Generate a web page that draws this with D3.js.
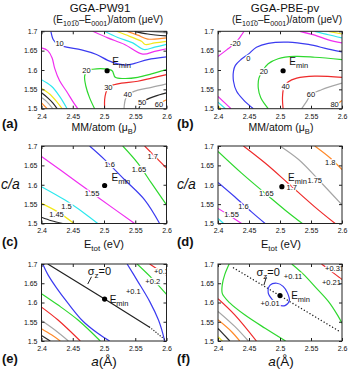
<!DOCTYPE html>
<html>
<head>
<meta charset="utf-8">
<script src="https://cdn.jsdelivr.net/npm/d3@7/dist/d3.min.js"></script>
<style>
  body { margin: 0; background: #fff; }
  svg text { font-family: "Liberation Sans", Arial, sans-serif; fill: #111; }
</style>
</head>
<body>
<svg id="fig" width="350" height="370"></svg>
<script>
// ---- data: points are (a in Angstrom, c/a) ----
const aTicks = [2.4, 2.45, 2.5, 2.55, 2.6];
const aTickLabels = ['2.4', '2.45', '2.5', '2.55', '2.6'];
const caTicks = [1.5, 1.55, 1.6, 1.65, 1.7];
const caTickLabels = ['1.5', '1.55', '1.6', '1.65', '1.7'];

// (a) GGA-PW91, MAE contours
const linesA = [
  [[2.415,1.7],[2.419,1.678],[2.426,1.666],[2.440,1.659],[2.464,1.652],[2.488,1.640],[2.506,1.625],[2.522,1.616],[2.536,1.613],[2.549,1.617],[2.570,1.627],[2.6,1.634]],
  [[2.482,1.7],[2.506,1.683],[2.533,1.666],[2.562,1.641],[2.581,1.648],[2.6,1.655]],
  [[2.501,1.7],[2.522,1.684],[2.546,1.670],[2.564,1.653],[2.581,1.659],[2.6,1.666]],
  [[2.520,1.7],[2.541,1.687],[2.560,1.674],[2.566,1.666],[2.581,1.670],[2.6,1.674]],
  [[2.536,1.7],[2.554,1.690],[2.570,1.680],[2.6,1.683]],
  [[2.549,1.7],[2.570,1.693],[2.6,1.688]],
  [[2.573,1.7],[2.6,1.696]],
  [[2.4,1.657],[2.410,1.650],[2.417,1.631],[2.421,1.605],[2.429,1.572],[2.440,1.545],[2.450,1.519],[2.458,1.5]],
  [[2.4,1.575],[2.416,1.558],[2.429,1.532],[2.441,1.5]],
  [[2.4,1.553],[2.413,1.538],[2.424,1.519],[2.433,1.5]],
  [[2.4,1.541],[2.410,1.528],[2.418,1.515],[2.425,1.5]],
  [[2.4,1.529],[2.408,1.519],[2.418,1.5]],
  [[2.4,1.515],[2.409,1.5]],
  [[2.485,1.5],[2.477,1.528],[2.471,1.558],[2.469,1.584],[2.473,1.598],[2.482,1.602],[2.501,1.603],[2.513,1.598],[2.518,1.581],[2.533,1.578],[2.554,1.581],[2.576,1.590],[2.6,1.601]],
  [[2.6,1.588],[2.576,1.579],[2.554,1.571],[2.528,1.566],[2.516,1.562],[2.507,1.555],[2.503,1.541],[2.501,1.523],[2.501,1.5]],
  [[2.6,1.564],[2.576,1.555],[2.554,1.548],[2.538,1.536],[2.534,1.523],[2.532,1.5]],
  [[2.6,1.541],[2.581,1.532],[2.561,1.517],[2.557,1.506],[2.556,1.5]],
  [[2.6,1.523],[2.588,1.512],[2.582,1.5]]
];
const colorsA = ['blue','magenta','cyan','yellow','orange','black','gray',
  'magenta','cyan','yellow','black','gray','orange','green','red','gray','black','orange'];
const labelsA = [['10',2.429,1.670],['20',2.472,1.598],['30',2.507,1.555],['40',2.538,1.536],['50',2.561,1.517],['60',2.588,1.512]];

// (b) GGA-PBE-pv, MAE contours
const linesB = [
  [[2.4,1.635],[2.414,1.652],[2.428,1.670],[2.437,1.688],[2.442,1.7]],
  [[2.457,1.5],[2.441,1.523],[2.430,1.545],[2.425,1.571],[2.425,1.597],[2.428,1.612],[2.437,1.627],[2.449,1.641],[2.462,1.659],[2.481,1.669],[2.513,1.672],[2.546,1.666],[2.578,1.654],[2.6,1.647]],
  [[2.481,1.5],[2.469,1.528],[2.465,1.553],[2.466,1.579],[2.472,1.598],[2.481,1.616],[2.497,1.629],[2.524,1.635],[2.556,1.633],[2.6,1.627]],
  [[2.505,1.5],[2.504,1.528],[2.506,1.553],[2.513,1.569],[2.527,1.579],[2.556,1.584],[2.6,1.581]],
  [[2.535,1.5],[2.543,1.519],[2.550,1.536],[2.567,1.549],[2.6,1.566]],
  [[2.583,1.5],[2.591,1.510],[2.6,1.521]],
  [[2.532,1.7],[2.556,1.690],[2.578,1.678],[2.6,1.670]],
  [[2.556,1.7],[2.578,1.691],[2.6,1.683]],
  [[2.578,1.7],[2.6,1.693]],
  [[2.4,1.532],[2.411,1.515],[2.421,1.5]],
  [[2.4,1.517],[2.412,1.5]],
  [[2.4,1.507],[2.405,1.5]]
];
const colorsB = ['magenta','blue','green','red','gray','orange','magenta','cyan','yellow','magenta','cyan','yellow'];
const labelsB = [['-20',2.428,1.670],['0',2.449,1.629],['20',2.474,1.597],['40',2.509,1.558],['60',2.550,1.538],['80',2.588,1.512]];

// (c) GGA-PW91, total energy contours
const linesC = [
  [[2.4,1.516],[2.416,1.507],[2.434,1.5]],
  [[2.4,1.552],[2.426,1.530],[2.452,1.5]],
  [[2.4,1.595],[2.437,1.561],[2.469,1.526],[2.490,1.5]],
  [[2.4,1.673],[2.456,1.608],[2.489,1.569],[2.549,1.5]],
  [[2.477,1.7],[2.501,1.665],[2.533,1.613],[2.565,1.561],[2.589,1.5]],
  [[2.530,1.7],[2.554,1.656],[2.576,1.604],[2.6,1.548]],
  [[2.565,1.7],[2.6,1.643]]
];
const colorsC = ['black','yellow','cyan','magenta','blue','green','red'];
const labelsC = [['1.45',2.424,1.524],['1.5',2.440,1.543],['1.55',2.481,1.578],['1.6',2.509,1.652],['1.65',2.556,1.639],['1.7',2.578,1.672]];

// (d) GGA-PBE-pv, total energy contours
const linesD = [
  [[2.4,1.513],[2.409,1.5]],
  [[2.4,1.539],[2.422,1.517],[2.438,1.5]],
  [[2.4,1.606],[2.427,1.569],[2.454,1.530],[2.476,1.5]],
  [[2.4,1.686],[2.438,1.630],[2.476,1.578],[2.508,1.535],[2.536,1.5]],
  [[2.441,1.7],[2.476,1.656],[2.513,1.604],[2.556,1.543],[2.589,1.5]],
  [[2.5,1.7],[2.530,1.665],[2.562,1.613],[2.6,1.548]],
  [[2.556,1.7],[2.581,1.669],[2.6,1.639]]
];
const colorsD = ['cyan','magenta','blue','green','red','gray','orange'];
const labelsD = [['1.55',2.422,1.524],['1.6',2.441,1.545],['1.65',2.478,1.578],['1.7',2.519,1.593],['1.75',2.556,1.611],['1.8',2.581,1.658]];

// (e) GGA-PW91, stress-free line and energy above Emin
const linesE = [
  [[2.402,1.7],[2.410,1.673],[2.424,1.638],[2.442,1.599],[2.466,1.552],[2.490,1.520],[2.509,1.5]],
  [[2.537,1.7],[2.554,1.655],[2.573,1.603],[2.587,1.555],[2.594,1.520],[2.597,1.5]],
  [[2.553,1.7],[2.576,1.664],[2.6,1.621]],
  [[2.573,1.7],[2.6,1.671]],
  [[2.4,1.623],[2.426,1.594],[2.458,1.555],[2.494,1.5]],
  [[2.4,1.588],[2.426,1.555],[2.462,1.5]],
  [[2.4,1.553],[2.421,1.529],[2.443,1.5]],
  [[2.4,1.532],[2.416,1.516],[2.430,1.5]],
  [[2.4,1.514],[2.414,1.5]]
];
const colorsE = ['blue','blue','green','red','green','red','gray','orange','black'];
const labelsE = [['+0.1',2.547,1.629],['+0.2',2.578,1.654],['+0.3',2.592,1.682]];
const sigmaSolidE = [[2.410,1.7],[2.501,1.609],[2.573,1.536]];
const sigmaDotE = [[2.573,1.536],[2.598,1.503]];

// (f) GGA-PBE-pv
const linesF = [
  [[2.418,1.7],[2.411,1.673],[2.407,1.647],[2.407,1.623],[2.419,1.599],[2.443,1.568],[2.476,1.533],[2.509,1.5]],
  [[2.4,1.610],[2.427,1.568],[2.462,1.5]],
  [[2.4,1.577],[2.427,1.538],[2.449,1.5]],
  [[2.4,1.555],[2.422,1.524],[2.435,1.5]],
  [[2.4,1.533],[2.419,1.5]],
  [[2.4,1.511],[2.407,1.5]],
  [[2.519,1.7],[2.538,1.673],[2.556,1.642],[2.578,1.603],[2.594,1.564],[2.6,1.546]],
  [[2.567,1.7],[2.586,1.677],[2.6,1.660]]
];
const colorsF = ['green','red','gray','orange','black','yellow','green','red'];
const labelsF = [['+0.01',2.484,1.599],['+0.11',2.521,1.667],['+0.21',2.583,1.652],['+0.31',2.588,1.689]];
const ringF = [[2.484,1.645],[2.495,1.650],[2.505,1.642],[2.512,1.625],[2.515,1.605],[2.508,1.592],[2.497,1.594],[2.488,1.607],[2.481,1.625]];
const sigmaDotF = [[2.425,1.690],[2.597,1.524]];

// minimum energy points and where their labels sit
const eminPts = [[2.505,1.598],[2.505,1.598],[2.501,1.598],[2.503,1.595],[2.501,1.609],[2.500,1.618]];
const eminText = [[2.513,1.612],[2.515,1.612],[2.512,1.609],[2.513,1.610],[2.509,1.599],[2.518,1.608]];

// ---- drawing ----
const palette = {
  red: '#ee2a2a', green: '#2ed82e', blue: '#3b3bf0', magenta: '#f02ef0', cyan: '#2ee8ee',
  yellow: '#f2e81a', black: '#2a2a2a', orange: '#ff8a2a', gray: '#a6a6a6'
};

const svg = d3.select('#fig');
const colX = [[41.5, 166.5], [218, 342]];
const rowY = [[108.7, 31.3], [223.5, 146], [341, 264]];

const panels = [
  {c:0, r:0, lines:linesA, colors:colorsA, labels:labelsA},
  {c:1, r:0, lines:linesB, colors:colorsB, labels:labelsB},
  {c:0, r:1, lines:linesC, colors:colorsC, labels:labelsC},
  {c:1, r:1, lines:linesD, colors:colorsD, labels:labelsD},
  {c:0, r:2, lines:linesE, colors:colorsE, labels:labelsE},
  {c:1, r:2, lines:linesF, colors:colorsF, labels:labelsF}
];

panels.forEach((p, i) => {
  const x = d3.scaleLinear().domain([2.4, 2.6]).range(colX[p.c]);
  const y = d3.scaleLinear().domain([1.5, 1.7]).range(rowY[p.r]);
  const line = d3.line().x(d => x(d[0])).y(d => y(d[1])).curve(d3.curveCatmullRom.alpha(0.5));
  const g = svg.append('g');

  g.append('clipPath').attr('id', 'clip' + i)
    .append('rect')
    .attr('x', x(2.4)).attr('y', y(1.7))
    .attr('width', x(2.6) - x(2.4)).attr('height', y(1.5) - y(1.7));

  const plot = g.append('g').attr('clip-path', 'url(#clip' + i + ')');

  plot.selectAll('.cline')
    .data(p.lines)
    .enter().append('path')
    .attr('class', 'cline')
    .attr('d', line)
    .attr('fill', 'none')
    .attr('stroke', (d, j) => palette[p.colors[j]])
    .attr('stroke-width', 1.2);

  if (i === 4) {
    plot.append('path').attr('d', d3.line().x(d => x(d[0])).y(d => y(d[1]))(sigmaSolidE))
      .attr('fill', 'none').attr('stroke', '#222').attr('stroke-width', 1.2);
    plot.append('path').attr('d', d3.line().x(d => x(d[0])).y(d => y(d[1]))(sigmaDotE))
      .attr('fill', 'none').attr('stroke', '#222').attr('stroke-width', 1.3)
      .attr('stroke-dasharray', '0.1 2.6').attr('stroke-linecap', 'round');
  }
  if (i === 5) {
    plot.append('path').attr('d', d3.line().x(d => x(d[0])).y(d => y(d[1]))(sigmaDotF))
      .attr('fill', 'none').attr('stroke', '#222').attr('stroke-width', 1.4)
      .attr('stroke-dasharray', '0.1 3.2').attr('stroke-linecap', 'round');
    plot.append('path')
      .attr('d', d3.line().x(d => x(d[0])).y(d => y(d[1])).curve(d3.curveCatmullRomClosed)(ringF))
      .attr('fill', 'none').attr('stroke', palette.blue).attr('stroke-width', 1.2);
  }

  // contour labels, with a white halo like the gaps gnuplot leaves
  plot.selectAll('.clabel')
    .data(p.labels)
    .enter().append('text')
    .attr('class', 'clabel')
    .attr('x', d => x(d[1]))
    .attr('y', d => y(d[2]))
    .attr('dy', '0.35em')
    .attr('text-anchor', 'middle')
    .attr('font-size', 7.5)
    .attr('stroke', '#fff').attr('stroke-width', 2.5).attr('paint-order', 'stroke')
    .text(d => d[0]);

  // frame and inward ticks on all sides
  g.append('rect')
    .attr('x', x(2.4)).attr('y', y(1.7))
    .attr('width', x(2.6) - x(2.4)).attr('height', y(1.5) - y(1.7))
    .attr('fill', 'none').attr('stroke', '#222').attr('stroke-width', 1);

  const axB = g.append('g').attr('transform', 'translate(0,' + y(1.5) + ')')
    .call(d3.axisBottom(x).tickValues(aTicks).tickFormat((d, k) => aTickLabels[k])
      .tickSizeInner(-3).tickSizeOuter(0).tickPadding(5));
  const axL = g.append('g').attr('transform', 'translate(' + x(2.4) + ',0)')
    .call(d3.axisLeft(y).tickValues(caTicks).tickFormat((d, k) => caTickLabels[k])
      .tickSizeInner(-3).tickSizeOuter(0).tickPadding(4));
  const axT = g.append('g').attr('transform', 'translate(0,' + y(1.7) + ')')
    .call(d3.axisTop(x).tickValues(aTicks).tickFormat('').tickSizeInner(-3).tickSizeOuter(0));
  const axR = g.append('g').attr('transform', 'translate(' + x(2.6) + ',0)')
    .call(d3.axisRight(y).tickValues(caTicks).tickFormat('').tickSizeInner(-3).tickSizeOuter(0));
  [axB, axL, axT, axR].forEach(ax => {
    ax.select('.domain').remove();
    ax.selectAll('line').attr('stroke', '#222');
    ax.selectAll('text').attr('font-size', 7).attr('font-family', '"Liberation Sans", Arial, sans-serif').attr('fill', '#111');
  });

  // E_min dot and label
  g.append('circle')
    .attr('cx', x(eminPts[i][0])).attr('cy', y(eminPts[i][1]))
    .attr('r', 2.6).attr('fill', '#000');
  const et = g.append('text')
    .attr('x', x(eminText[i][0])).attr('y', y(eminText[i][1]))
    .attr('font-size', 10);
  et.append('tspan').text('E');
  et.append('tspan').text('min').attr('font-size', 7.5).attr('dy', 3);
});

// sigma_z = 0 annotations in (e) and (f)
function sigmaNote(ci, ri, at, arrow) {
  const x = d3.scaleLinear().domain([2.4, 2.6]).range(colX[ci]);
  const y = d3.scaleLinear().domain([1.5, 1.7]).range(rowY[ri]);
  const t = svg.append('text').attr('x', x(at[0])).attr('y', y(at[1])).attr('font-size', 11);
  t.append('tspan').text('σ');
  t.append('tspan').text('z').attr('font-size', 8).attr('dy', 2.5);
  t.append('tspan').text('=0').attr('dy', -2.5);
  svg.append('line')
    .attr('x1', x(arrow[0][0])).attr('y1', y(arrow[0][1]))
    .attr('x2', x(arrow[1][0])).attr('y2', y(arrow[1][1]))
    .attr('stroke', '#222').attr('stroke-width', 1);
}
sigmaNote(0, 2, [2.474, 1.671], [[2.480, 1.667], [2.474, 1.648]]);
sigmaNote(1, 2, [2.462, 1.668], [[2.478, 1.666], [2.474, 1.645]]);

// ---- text around the panels ----
function rich(sel, parts, size) {
  let shifted = 0;
  parts.forEach(pt => {
    const ts = sel.append('tspan').text(pt.t);
    const want = pt.sub ? size * 0.3 : 0;
    if (want !== shifted) { ts.attr('dy', want - shifted); shifted = want; }
    if (pt.sub) ts.attr('font-size', size * 0.72);
    if (pt.it) ts.attr('font-style', 'italic');
  });
}

const titles = ['GGA-PW91', 'GGA-PBE-pv'];
const titleX = [100, 285];
const subX = [108, 287];
const tagY = [128, 246, 363];
const axisLabelY = [131, 247.5, 366];
const panelTags = [['(a)', '(b)'], ['(c)', '(d)'], ['(e)', '(f)']];
const tagX = [2, 177];
const axisCX = [104, 281];

titles.forEach((t, c) => {
  svg.append('text').attr('x', titleX[c]).attr('y', 12).attr('text-anchor', 'middle')
    .attr('font-size', 11.5).text(t);
  const s = svg.append('text').attr('x', subX[c]).attr('y', 23).attr('text-anchor', 'middle')
    .attr('font-size', 10);
  rich(s, [{t:'(E'}, {t:'101\u03050', sub:true}, {t:'\u2013E'}, {t:'0001', sub:true}, {t:')/atom (\u03bceV)'}], 10);
});

tagY.forEach((yy, r) => {
  [0, 1].forEach(c => {
    svg.append('text').attr('x', tagX[c]).attr('y', yy).attr('font-size', 13)
      .attr('font-weight', 'bold').text(panelTags[r][c]);
    const t = svg.append('text').attr('x', axisCX[c]).attr('y', axisLabelY[r])
      .attr('text-anchor', 'middle');
    if (r === 0) { t.attr('font-size', 10.5); rich(t, [{t:'MM/atom (\u03bc'}, {t:'B', sub:true}, {t:')'}], 10.5); }
    if (r === 1) { t.attr('font-size', 11); rich(t, [{t:'E'}, {t:'tot', sub:true}, {t:' (eV)'}], 11); }
    if (r === 2) { t.attr('font-size', 13.5); rich(t, [{t:'a', it:true}, {t:'(\u00c5)'}], 13.5); }
  });
});

[1, 177].forEach(xx => {
  svg.append('text').attr('x', xx).attr('y', 189).attr('font-size', 14)
    .attr('font-style', 'italic').text('c/a');
});
</script>
</body>
</html>
